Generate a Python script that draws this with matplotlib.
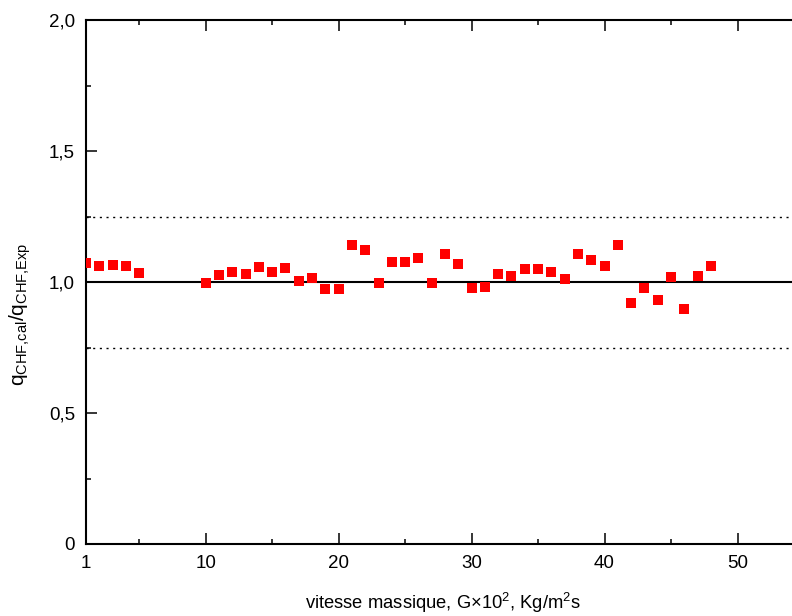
import matplotlib
matplotlib.use('Agg')
import matplotlib.pyplot as plt
from matplotlib.ticker import FixedLocator, FuncFormatter

plt.rcParams['font.family'] = ['Liberation Sans', 'DejaVu Sans']
plt.rcParams['mathtext.fontset'] = 'custom'
plt.rcParams['mathtext.rm'] = 'Liberation Sans'
plt.rcParams['mathtext.it'] = 'Liberation Sans'

# data
G = [1, 2, 3, 4, 5,
     10, 11, 12, 13, 14, 15, 16, 17, 18, 19, 20,
     21, 22, 23, 24, 25, 26, 27, 28, 29, 30,
     31, 32, 33, 34, 35, 36, 37, 38, 39, 40,
     41, 42, 43, 44, 45, 46, 47, 48]
ratio = [1.074, 1.062, 1.065, 1.062, 1.033,
         0.997, 1.027, 1.039, 1.031, 1.056, 1.037, 1.052, 1.004, 1.014, 0.973, 0.973,
         1.141, 1.121, 0.995, 1.075, 1.076, 1.090, 0.997, 1.106, 1.069, 0.976,
         0.981, 1.032, 1.023, 1.048, 1.048, 1.039, 1.010, 1.108, 1.084, 1.062,
         1.140, 0.921, 0.978, 0.930, 1.020, 0.897, 1.024, 1.060]

x_major = [1, 10, 20, 30, 40, 50]
x_minor = [5, 15, 25, 35, 45, 55]
y_major = [0, 0.5, 1.0, 1.5, 2.0]
y_minor = [0.25, 0.75, 1.25, 1.75]

fig = plt.figure(figsize=(7.92, 6.16), dpi=100)
# axes runs past the right edge of the picture, as in the original
ax = fig.add_axes([86 / 792, 72 / 616, 718 / 792, 524 / 616])

ax.axhline(1.0, color='black', lw=1.5, zorder=1)
ax.axhline(1.25, color='black', lw=1.0, ls=(0, (1.5, 3.3)), zorder=1)
ax.axhline(0.75, color='black', lw=1.0, ls=(0, (1.5, 3.3)), zorder=1)

ax.plot(G, ratio, 's', color='#ff0000', markersize=7.6, markeredgewidth=0, zorder=3)

ax.set_xlim(1, 55)
ax.set_ylim(0, 2.0)
ax.xaxis.set_major_locator(FixedLocator(x_major))
ax.xaxis.set_minor_locator(FixedLocator(x_minor))
ax.yaxis.set_major_locator(FixedLocator(y_major))
ax.yaxis.set_minor_locator(FixedLocator(y_minor))
ax.yaxis.set_major_formatter(FuncFormatter(
    lambda v, p: '0' if v == 0 else f'{v:.1f}'.replace('.', ',')))

for s in ax.spines.values():
    s.set_linewidth(1.5)
ax.tick_params(which='both', direction='in', top=True, right=True,
               width=1.1, labelsize=13.5, colors='black')
ax.tick_params(which='major', length=8, pad=8)
ax.tick_params(which='minor', length=3.6)

fig.text(443 / 792, 1 - 603 / 616,
         r'vitesse massique, G$\mathregular{\times}$10$^\mathregular{2}$, Kg/m$^\mathregular{2}$s',
         ha='center', va='center', fontsize=13.2)
fig.text(20 / 792, 1 - 314 / 616,
         r'$\mathregular{q_{CHF{,}cal}/q_{CHF{,}Exp}}$',
         ha='center', va='center', rotation=90, fontsize=15)

fig.savefig('out.png', dpi=100)
plt.close(fig)
